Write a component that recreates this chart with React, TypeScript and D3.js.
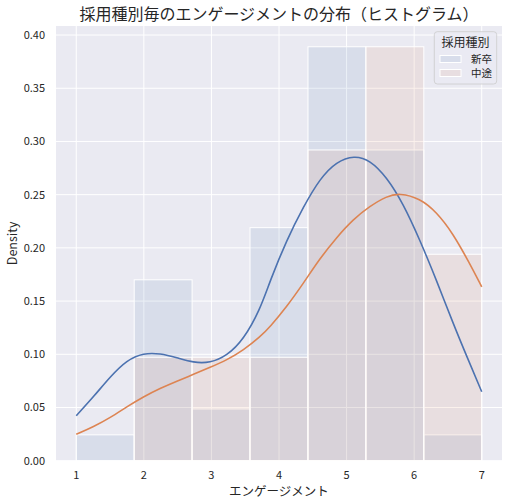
import * as d3 from "d3";

// bins: 7 equal-width bins between 1 and 7
const binEdges = [1, 1.857, 2.714, 3.571, 4.429, 5.286, 6.143, 7];
const groups = ["新卒", "中途"];
const shinsotsuDensity = [0.0243, 0.17, 0.0486, 0.219, 0.389, 0.292, 0.0243];
const chutoDensity = [0, 0.0972, 0.0972, 0.0972, 0.292, 0.389, 0.194];

// KDE curves
const shinsotsuKdeX = [1, 1.256, 1.502, 1.749, 1.995, 2.24, 2.49, 2.734, 2.98, 3.227, 3.473, 3.72, 3.867, 4.113, 4.36, 4.606, 4.852, 5.113, 5.345, 5.591, 5.837, 6.084, 6.33, 6.576, 6.822, 7];
const shinsotsuKdeY = [0.0423, 0.0601, 0.0789, 0.0946, 0.1012, 0.1008, 0.0968, 0.0921, 0.0918, 0.0985, 0.1135, 0.1420, 0.1690, 0.2072, 0.2385, 0.2652, 0.2812, 0.2868, 0.2826, 0.2667, 0.2417, 0.2075, 0.1697, 0.129, 0.0915, 0.0648];
const chutoKdeX = [1, 1.256, 1.502, 1.749, 1.995, 2.24, 2.49, 2.734, 2.98, 3.227, 3.473, 3.72, 3.867, 4.113, 4.36, 4.606, 4.852, 5.098, 5.345, 5.591, 5.788, 6.084, 6.33, 6.576, 6.822, 7];
const chutoKdeY = [0.0248, 0.0319, 0.0404, 0.0507, 0.0601, 0.068, 0.0748, 0.0811, 0.0877, 0.0946, 0.1039, 0.1164, 0.1258, 0.1446, 0.1666, 0.1902, 0.2098, 0.2268, 0.2392, 0.2485, 0.2516, 0.2464, 0.2338, 0.2134, 0.1853, 0.1634];

const xTicks = [1, 2, 3, 4, 5, 6, 7];
const yTicks = [0, 0.05, 0.1, 0.15, 0.2, 0.25, 0.3, 0.35, 0.4];

const colors = ["#4c72b0", "#dd8452"];
const barOpacity = 0.11;
const textColor = "#262626";
const font = "'Noto Sans CJK JP', 'Noto Sans', sans-serif";

export default function App() {
  const width = 508;
  const height = 504;
  const left = 56, right = 502, top = 26, bottom = 460.7;

  const x = d3.scaleLinear().domain([0.7, 7.3]).range([left, right]);
  const y = d3.scaleLinear().domain([0, 0.4085]).range([bottom, top]);

  const series = [shinsotsuDensity, chutoDensity];
  const kdes = [
    shinsotsuKdeX.map((v, i) => [v, shinsotsuKdeY[i]] as [number, number]),
    chutoKdeX.map((v, i) => [v, chutoKdeY[i]] as [number, number]),
  ];

  const line = d3.line<[number, number]>()
    .x(d => x(d[0]))
    .y(d => y(d[1]))
    .curve(d3.curveBasis);

  return (
    <svg width={width} height={height} style={{ position: "absolute", left: 0, top: 0 }} fontFamily={font}>
      <rect width={width} height={height} fill="#ffffff" />
      <rect x={left} y={top} width={right - left} height={bottom - top} fill="#eaeaf2" />

      {/* grid */}
      {xTicks.map(t => (
        <line key={"gx" + t} x1={x(t)} x2={x(t)} y1={top} y2={bottom} stroke="#ffffff" strokeWidth={1} />
      ))}
      {yTicks.map(t => (
        <line key={"gy" + t} x1={left} x2={right} y1={y(t)} y2={y(t)} stroke="#ffffff" strokeWidth={1} />
      ))}

      {/* bars */}
      {series.map((vals, gi) => (
        <g key={"bars" + gi}>
          {vals.map((v, i) => v > 0 && (
            <rect
              key={i}
              x={x(binEdges[i])}
              y={y(v)}
              width={x(binEdges[i + 1]) - x(binEdges[i])}
              height={y(0) - y(v)}
              fill={colors[gi]}
              fillOpacity={barOpacity}
              stroke="#ffffff"
              strokeWidth={1}
            />
          ))}
        </g>
      ))}

      {/* kde */}
      {kdes.map((pts, gi) => (
        <path key={"kde" + gi} d={line(pts) || ""} fill="none" stroke={colors[gi]} strokeWidth={1.6} />
      ))}

      {/* ticks */}
      {xTicks.map(t => (
        <text key={"tx" + t} x={x(t)} y={bottom + 18} textAnchor="middle" fontSize={11} fill={textColor}>{t}</text>
      ))}
      {yTicks.map(t => (
        <text key={"ty" + t} x={left - 11} y={y(t) + 4} textAnchor="end" fontSize={11} fill={textColor}>{t.toFixed(2)}</text>
      ))}

      {/* labels */}
      <text x={(left + right) / 2} y={496} textAnchor="middle" fontSize={12.5} fill={textColor}>エンゲージメント</text>
      <text transform={`translate(17, ${(top + bottom) / 2}) rotate(-90)`} textAnchor="middle" fontSize={12.5} fill={textColor}>Density</text>
      <text x={(left + right) / 2} y={19.5} textAnchor="middle" fontSize={16} fill={textColor}>採用種別毎のエンゲージメントの分布（ヒストグラム）</text>

      {/* legend */}
      <g>
        <rect x={434.3} y={31.7} width={62.4} height={52.3} rx={3} fill="#eaeaf2" fillOpacity={0.8} stroke="#cccccc" strokeWidth={0.8} />
        <text x={465.5} y={47} textAnchor="middle" fontSize={12} fill={textColor}>採用種別</text>
        {groups.map((g, i) => (
          <g key={g}>
            <rect x={440} y={55.5 + i * 14} width={21} height={7} fill={colors[i]} fillOpacity={barOpacity} stroke="#ffffff" strokeWidth={1} />
            <text x={492} y={63 + i * 14} textAnchor="end" fontSize={10.5} fill={textColor}>{g}</text>
          </g>
        ))}
      </g>
    </svg>
  );
}
